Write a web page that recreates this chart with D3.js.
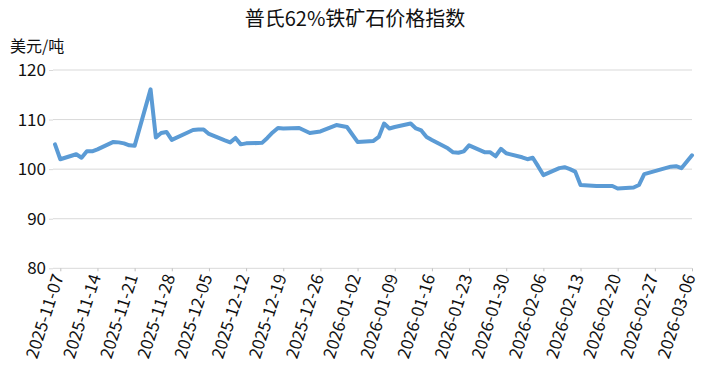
<!DOCTYPE html>
<html>
<head>
<meta charset="utf-8">
<script src="https://cdn.jsdelivr.net/npm/d3@7"></script>
<style>
  body { margin: 0; background: #fff; }
  svg { display: block; font-family: "Noto Sans CJK SC", "Noto Sans", sans-serif; }
</style>
</head>
<body>
<script>
'use strict';

const title = "普氏62%铁矿石价格指数"
const unitLabel = "美元/吨"

const dates = [
    "2025-11-06", "2025-11-07", "2025-11-10", "2025-11-11", "2025-11-12", "2025-11-13", "2025-11-14",
    "2025-11-17", "2025-11-18", "2025-11-19", "2025-11-20", "2025-11-21",
    "2025-11-24", "2025-11-25", "2025-11-26", "2025-11-27", "2025-11-28",
    "2025-12-01", "2025-12-02", "2025-12-03", "2025-12-04", "2025-12-05",
    "2025-12-08", "2025-12-09", "2025-12-10", "2025-12-11", "2025-12-12",
    "2025-12-15", "2025-12-16", "2025-12-17", "2025-12-18", "2025-12-19",
    "2025-12-22", "2025-12-23", "2025-12-24", "2025-12-26",
    "2025-12-29", "2025-12-30", "2025-12-31", "2026-01-02",
    "2026-01-05", "2026-01-06", "2026-01-07", "2026-01-08", "2026-01-09",
    "2026-01-12", "2026-01-13", "2026-01-14", "2026-01-15", "2026-01-16",
    "2026-01-19", "2026-01-20", "2026-01-21", "2026-01-22", "2026-01-23",
    "2026-01-26", "2026-01-27", "2026-01-28", "2026-01-29", "2026-01-30",
    "2026-02-02", "2026-02-03", "2026-02-04", "2026-02-05", "2026-02-06",
    "2026-02-09", "2026-02-10", "2026-02-11", "2026-02-12", "2026-02-13",
    "2026-02-16", "2026-02-17", "2026-02-18", "2026-02-19", "2026-02-20",
    "2026-02-23", "2026-02-24", "2026-02-25", "2026-02-26", "2026-02-27",
    "2026-03-02", "2026-03-03", "2026-03-04", "2026-03-05", "2026-03-06"
]

const prices = [
    105.0, 102.0, 103.0, 102.3, 103.6, 103.6, 104.0,
    105.5, 105.4, 105.2, 104.8, 104.7,
    116.1, 106.4, 107.3, 107.5, 105.9,
    107.4, 107.9, 108.0, 108.0, 107.1,
    105.8, 105.4, 106.3, 105.0, 105.2,
    105.3, 106.3, 107.4, 108.3, 108.2,
    108.3, 107.8, 107.3, 107.6,
    108.9, 108.7, 108.5, 105.5,
    105.7, 106.5, 109.2, 108.2, 108.5,
    109.2, 108.2, 107.8, 106.5, 105.9,
    104.2, 103.4, 103.3, 103.6, 104.8,
    103.4, 103.4, 102.6, 104.1, 103.2,
    102.4, 102.0, 102.3, 100.6, 98.8,
    100.2, 100.4, 100.0, 99.5, 96.8,
    96.6, 96.6, 96.6, 96.6, 96.1,
    96.3, 96.8, 99.0, 99.3, 99.6,
    100.5, 100.6, 100.2, 101.5, 102.8
]

const xTicks = [
    "2025-11-07", "2025-11-14", "2025-11-21", "2025-11-28", "2025-12-05", "2025-12-12",
    "2025-12-19", "2025-12-26", "2026-01-02", "2026-01-09", "2026-01-16", "2026-01-23",
    "2026-01-30", "2026-02-06", "2026-02-13", "2026-02-20", "2026-02-27", "2026-03-06"
]
const yTicks = [80, 90, 100, 110, 120]

const parse = d3.utcParse("%Y-%m-%d")
const data = dates.map((d, i) => ({ date: parse(d), value: prices[i] }))

const width = 705, height = 367

const svg = d3.select("body").append("svg")
    .attr("width", width)
    .attr("height", height)

const x = d3.scaleUtc()
    .domain([parse("2025-11-06"), parse("2026-03-06")])
    .range([55, 692])

const y = d3.scaleLinear()
    .domain([80, 120])
    .range([268.3, 70])

// y labels with small ticks
const yAxis = svg.append("g")
    .attr("transform", "translate(53,0)")
    .call(d3.axisLeft(y).tickValues(yTicks).tickSize(4).tickPadding(3))
yAxis.select(".domain").remove()
yAxis.selectAll(".tick line").attr("stroke", "#d9d9d9")
yAxis.selectAll(".tick text")
    .attr("fill", "#111")
    .attr("font-size", "17px")
    .attr("font-family", "'Noto Sans CJK SC', sans-serif")

// gridlines
svg.append("g")
    .selectAll("line")
    .data(yTicks)
    .join("line")
    .attr("x1", 53)
    .attr("x2", 692)
    .attr("y1", d => y(d))
    .attr("y2", d => y(d))
    .attr("stroke", "#d9d9d9")
    .attr("stroke-width", 1)

// x axis
const xAxis = svg.append("g")
    .attr("transform", "translate(0," + y(80) + ")")
    .call(d3.axisBottom(x).tickValues(xTicks.map(parse)).tickSize(3).tickFormat(d3.utcFormat("%Y-%m-%d")))
xAxis.select(".domain").remove()
xAxis.selectAll(".tick line").attr("stroke", "#bfbfbf")
xAxis.selectAll(".tick text")
    .attr("fill", "#111")
    .attr("font-size", "17px")
    .attr("font-family", "'Noto Sans CJK SC', sans-serif")
    .attr("text-anchor", "end")
    .attr("dy", null)
    .attr("transform", "translate(-4,6) rotate(-72)")
    .attr("x", 0)
    .attr("y", 0)
    .attr("dominant-baseline", "central")

// price line
const line = d3.line()
    .x(d => x(d.date))
    .y(d => y(d.value))

svg.append("path")
    .datum(data)
    .attr("fill", "none")
    .attr("stroke", "#5b9bd5")
    .attr("stroke-width", 4)
    .attr("stroke-linejoin", "round")
    .attr("stroke-linecap", "round")
    .attr("d", line)

// titles
svg.append("text")
    .attr("x", 355)
    .attr("y", 26)
    .attr("text-anchor", "middle")
    .attr("font-size", "20px")
    .attr("fill", "#111")
    .text(title)

svg.append("text")
    .attr("x", 10)
    .attr("y", 52)
    .attr("font-size", "16px")
    .attr("fill", "#111")
    .text(unitLabel)
</script>
</body>
</html>
